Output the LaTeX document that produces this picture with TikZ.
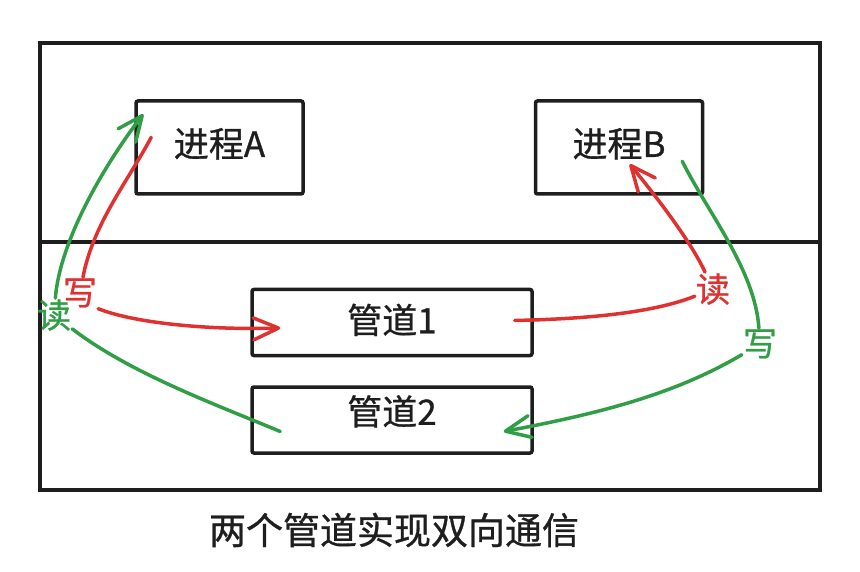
\documentclass[tikz,border=0pt]{standalone}
\usepackage{fontspec}
\usetikzlibrary{
arrows.meta,
positioning
}
\newfontfamily\cjk[FakeBold=0.8]{Noto Sans CJK SC}
\definecolor{inkblack}{HTML}{1E1E1E}
\definecolor{rwred}{HTML}{E03131}
\definecolor{rwgreen}{HTML}{2F9E44}

\begin{document}
\begin{tikzpicture}[
x=1pt, y=-1pt,
wall/.style={draw=inkblack, line width=3.5pt},
box/.style={
rectangle,
rounded corners=2pt,
draw=inkblack,
line width=3.5pt,
text=inkblack,
inner sep=0pt,
font=\cjk\fontsize{35}{40}\selectfont
},
proc/.style={box, minimum width=167pt, minimum height=93pt, text depth=10pt},
pipe/.style={box, minimum width=280pt, minimum height=66pt, text depth=8pt},
tag/.style={inner sep=1pt, font=\cjk\fontsize{34}{38}\selectfont},
flow/.style={line width=3.5pt, line cap=round},
arrow/.style={flow, -{Straight Barb[length=25pt,width=22pt,round]}}
]

\useasboundingbox (0,0) rectangle (860,572);

\draw[wall] (40,43) rectangle (820,490);
\draw[wall] (40,242) -- (820,242);

\node[proc] (procA) at (219.5,147.5) {进程A};
\node[proc, right=229pt of procA] (procB) {进程B};

\node[pipe] (pipe1) at (392,322.5) {管道1};
\node[pipe, below=28pt of pipe1, text depth=20pt] (pipe2) {管道2};

\node[tag, text=rwred] (writeA) at (80,293) {写};
\node[tag, text=rwgreen] (readA) at (54,315) {读};
\node[tag, text=rwred] (readB) at (713,289) {读};
\node[tag, text=rwgreen] (writeB) at (760,344) {写};

\node[font=\cjk\fontsize{37}{42}\selectfont, text=inkblack] (caption) at (394,530)
{两个管道实现双向通信};

\draw[flow, rwred] ([shift={(17pt,-38pt)}]procA.north west)
.. controls (128,181) and (93,224) .. (writeA);
\draw[arrow, rwred] (writeA.south east)
.. controls (140,325) and (220,330) .. ([shift={(30pt,-5.5pt)}]pipe1.west);

\draw[flow, rwred] ([shift={(-19pt,2pt)}]pipe1.east)
.. controls (580,319) and (650,314) .. (readB);
\draw[arrow, rwred] (readB)
.. controls (690,240) and (655,195) .. ([shift={(96pt,-65pt)}]procB.north west);

\draw[flow, rwgreen] ([shift={(-22pt,-62pt)}]procB.north east)
.. controls (708,213) and (755,270) .. (writeB);
\draw[arrow, rwgreen] (writeB)
.. controls (675,394) and (602,413) .. ([shift={(-30pt,-11.5pt)}]pipe2.east);

\draw[flow, rwgreen] ([shift={(30pt,-11.5pt)}]pipe2.west)
.. controls (212,403) and (130,373) .. (readA);
\draw[arrow, rwgreen] (readA)
.. controls (60,240) and (105,164) .. ([shift={(9pt,-15pt)}]procA.north west);

\end{tikzpicture}
\end{document}
